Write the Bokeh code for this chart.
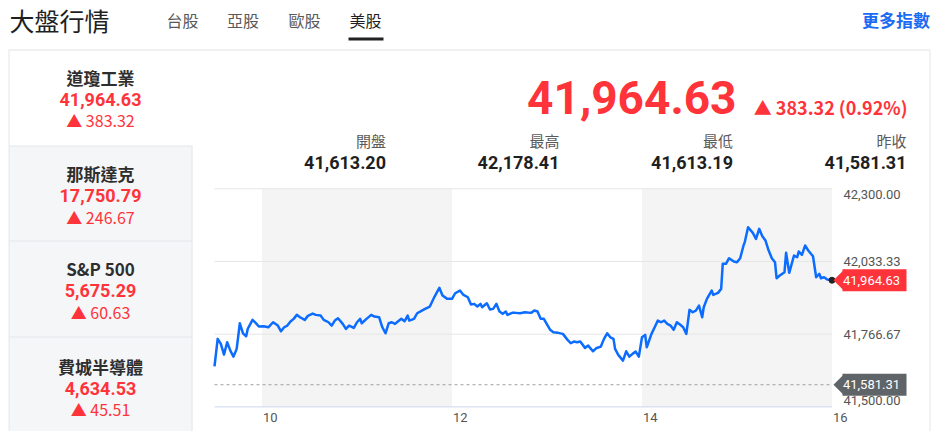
import math
import numpy as np
from bokeh.plotting import figure
from bokeh.models import Range1d
from bokeh.core.properties import value
from bokeh.embed import file_html
from bokeh.resources import INLINE

# ---------------- data ----------------
page_title = "大盤行情"
tabs = ["台股", "亞股", "歐股", "美股"]
active_tab = 3
more_link = "更多指數"

index_names = ["道瓊工業", "那斯達克", "S&P 500", "費城半導體"]
index_values = [41964.63, 17750.79, 5675.29, 4634.53]
index_changes = [383.32, 246.67, 60.63, 45.51]

last_price = 41964.63
last_change = 383.32
last_pct = 0.92

stat_labels = ["開盤", "最高", "最低", "昨收"]
stat_values = [41613.20, 42178.41, 41613.19, 41581.31]
prev_close = 41581.31

y_ticks = [41500.00, 41766.67, 42033.33, 42300.00]
x_ticks = [10, 12, 14, 16]
x_tick_labels = ["10", "12", "14", "16"]
band_starts = [10, 14]
band_ends = [12, 16]
session_start = 9.5   # 09:30
session_end = 16.0    # 16:00

# minutes after 09:30 and index level
minutes = [0, 2, 4, 6, 8, 10, 12, 14, 16, 18,
           20, 21, 24, 26, 28, 31, 34, 37, 40, 42,
           44, 46, 48, 50, 52, 54, 57, 59, 62, 64,
           67, 69, 72, 74, 76, 78, 81, 83, 85, 88,
           90, 92, 93, 96, 99, 101, 104, 106, 108, 110,
           112, 114, 116, 118, 120, 122, 123, 126, 128, 131,
           133, 136, 139, 142, 144, 147, 150, 152, 155, 157,
           160, 162, 164, 166, 168, 169, 172, 174, 176, 178,
           180, 182, 184, 185, 188, 190, 193, 196, 200, 202,
           204, 206, 208, 212, 214, 217, 220, 223, 225, 227,
           229, 231, 234, 236, 239, 241, 244, 246, 248, 250,
           252, 253, 255, 258, 260, 262, 264, 266, 268, 270,
           272, 273, 276, 278, 280, 282, 284, 286, 288, 290,
           292, 294, 296, 298, 300, 302, 304, 306, 308, 309,
           311, 314, 315, 318, 320, 321, 323, 325, 328, 330,
           332, 334, 335, 337, 340, 342, 344, 346, 348, 350,
           352, 354, 355, 357, 360, 361, 363, 366, 368, 369,
           371, 373, 375, 378, 380, 382, 383, 385, 387, 390]
prices = [41648.9, 41749.5, 41731.2, 41691.9, 41737.0, 41706.6, 41684.5, 41712.8, 41806.8, 41770.0,
          41759.0, 41786.2, 41819.2, 41808.2, 41794.7, 41795.8, 41792.1, 41810.5, 41798.3, 41777.4,
          41792.1, 41798.3, 41813.0, 41822.9, 41837.6, 41828.8, 41819.2, 41833.9, 41842.4, 41837.6,
          41835.0, 41819.2, 41810.5, 41798.3, 41816.7, 41825.1, 41804.5, 41786.2, 41798.3, 41789.9,
          41810.5, 41822.9, 41806.8, 41822.9, 41837.6, 41831.4, 41828.8, 41792.1, 41770.0, 41806.8,
          41810.5, 41804.5, 41814.1, 41822.9, 41814.1, 41835.0, 41816.7, 41822.9, 41843.5, 41853.4,
          41859.6, 41868.1, 41904.8, 41936.7, 41908.4, 41896.3, 41896.3, 41916.9, 41926.8, 41912.1,
          41902.2, 41875.4, 41878.0, 41868.1, 41878.0, 41865.5, 41880.2, 41857.1, 41859.6, 41878.0,
          41849.7, 41841.3, 41849.7, 41837.6, 41844.9, 41844.9, 41843.5, 41847.2, 41844.9, 41853.4,
          41849.7, 41822.9, 41822.9, 41782.6, 41773.8, 41771.6, 41767.9, 41745.9, 41733.4, 41739.6,
          41737.0, 41739.6, 41716.5, 41724.9, 41704.0, 41715.0, 41721.2, 41749.5, 41770.0, 41755.4,
          41749.5, 41712.8, 41690.7, 41669.9, 41704.0, 41684.5, 41694.5, 41702.9, 41684.5, 41755.4,
          41764.2, 41718.7, 41767.9, 41792.1, 41816.7, 41810.5, 41816.7, 41804.5, 41798.3, 41782.6,
          41810.5, 41802.0, 41792.1, 41767.9, 41855.9, 41847.2, 41853.4, 41871.7, 41828.8, 41865.5,
          41896.3, 41926.8, 41911.0, 41918.3, 41933.0, 42024.7, 42024.7, 42045.3, 42033.2, 42030.6,
          42045.3, 42089.4, 42106.6, 42159.1, 42138.5, 42116.5, 42153.2, 42126.0, 42110.3, 42073.6,
          42045.3, 42030.6, 41971.9, 41981.8, 41994.0, 42065.2, 41991.8, 42055.2, 42049.0, 42069.9,
          42057.8, 42091.9, 42073.6, 42052.7, 41975.6, 41988.1, 41971.9, 41975.6, 41967.2, 41964.63]

hours = [session_start + m / 60.0 for m in minutes]

# ---------------- styles / layout ----------------
RED = "#ff333a"
DARK = "#1f1f1f"
GRAY_TXT = "#5a5a5a"
LINE_BLUE = "#0b6cff"
BORDER = "#e3e6ea"
SIDE_BG = "#f5f6f8"
CJK = value("Noto Sans CJK TC")
NUM = value("Roboto")

W, H = 938, 431
OX = OY = 0


def fx(sx):
    return sx - OX


def fy(sy):
    return sy - OY


p = figure(width=W, height=H, x_range=Range1d(0, W), y_range=Range1d(H, 0),
           output_backend="svg", toolbar_location=None, min_border=0,
           x_axis_location=None, y_axis_location=None, outline_line_color=None)
p.grid.visible = False
p.background_fill_color = "white"
p.border_fill_color = "white"

# chart frame in pixels, data ranges derived from it
PL, PR = fx(214), fx(831.5)
PT, PB = fy(188.3), fy(406.4)
V0, V1 = y_ticks[0], y_ticks[-1]
kx = (PR - PL) / (session_end - session_start)
ky = (PB - PT) / (V1 - V0)
p.extra_x_ranges = {"t": Range1d(session_start - PL / kx, session_end + (W - PR) / kx)}
p.extra_y_ranges = {"v": Range1d(V0 - (H - PB) / ky, V1 + PT / ky)}
C = dict(x_range_name="t", y_range_name="v")

# ---------------- header ----------------
p.text(x=[fx(9)], y=[fy(19)], text=[page_title], text_font=CJK, text_font_size="25px",
       text_color=DARK, text_align="left", text_baseline="middle")
tab_x = [fx(182), fx(242.5), fx(304), fx(365)]
p.text(x=tab_x, y=[fy(19)] * 4, text=tabs, text_font=CJK, text_font_size="16px",
       text_color=[DARK if i == active_tab else GRAY_TXT for i in range(len(tabs))],
       text_align="center", text_baseline="middle")
p.quad(left=[fx(348)], right=[fx(383)], top=[fy(37)], bottom=[fy(40)],
       fill_color="#222222", line_color=None)
p.text(x=[fx(929.5)], y=[fy(19)], text=[more_link], text_font=CJK, text_font_size="17px",
       text_font_style="bold", text_color="#1b6cf2", text_align="right", text_baseline="middle")
p.segment(x0=[fx(8)], x1=[fx(930)], y0=[fy(49.5)], y1=[fy(49.5)], line_color="#e2e2e2", line_width=1)

# ---------------- sidebar ----------------
item_tops = [fy(50), fy(145.5), fy(240.5), fy(336.5)]
item_bottoms = item_tops[1:] + [H]
p.quad(left=[fx(8.5)] * 3, right=[fx(192)] * 3, top=item_tops[1:], bottom=item_bottoms[1:],
       fill_color=SIDE_BG, line_color=None)
p.segment(x0=[fx(8.5)] * 3, x1=[fx(192)] * 3, y0=item_tops[1:], y1=item_tops[1:],
          line_color=BORDER, line_width=1)
p.segment(x0=[fx(191.5)], x1=[fx(191.5)], y0=[item_tops[1]], y1=[H], line_color=BORDER)
p.segment(x0=[fx(8.5)], x1=[fx(8.5)], y0=[fy(50)], y1=[H], line_color=BORDER)

name_y = [fy(76.7), fy(173.3), fy(268.3), fy(365.7)]
side_cx = fx(100)
p.text(x=[side_cx] * 4, y=name_y, text=index_names, text_font=CJK, text_font_size="17px",
       text_font_style="bold", text_color="#2e2e2e", text_align="center", text_baseline="middle")
p.text(x=[side_cx] * 4, y=[y + 22 for y in name_y], text=[f"{v:,.2f}" for v in index_values],
       text_font=NUM, text_font_size="18px", text_font_style="bold", text_color=RED,
       text_align="center", text_baseline="middle")
p.text(x=[side_cx] * 4, y=[y + 43 for y in name_y], text=[f"▲ {c:,.2f}" for c in index_changes],
       text_font=CJK, text_font_size="16px", text_color=RED,
       text_align="center", text_baseline="middle")

# ---------------- main panel ----------------
p.segment(x0=[fx(929.5)], x1=[fx(929.5)], y0=[fy(50)], y1=[H], line_color=BORDER)
p.text(x=[fx(736)], y=[fy(97)], text=[f"{last_price:,.2f}"], text_font=NUM,
       text_font_size="46px", text_font_style="bold", text_color=RED,
       text_align="right", text_baseline="middle")
p.text(x=[fx(907)], y=[fy(106.7)], text=[f"▲ {last_change:,.2f} ({last_pct:.2f}%)"],
       text_font=CJK, text_font_size="18px", text_font_style="bold", text_color=RED,
       text_align="right", text_baseline="middle")
stat_x = [fx(385.5), fx(559), fx(732.5), fx(906)]
p.text(x=stat_x, y=[fy(140)] * 4, text=stat_labels, text_font=CJK, text_font_size="15px",
       text_color=GRAY_TXT, text_align="right", text_baseline="middle")
p.text(x=stat_x, y=[fy(162.3)] * 4, text=[f"{v:,.2f}" for v in stat_values], text_font=NUM,
       text_font_size="18px", text_font_style="bold", text_color=DARK,
       text_align="right", text_baseline="middle")

# ---------------- chart ----------------
p.quad(left=band_starts, right=band_ends, bottom=V0, top=V1,
       fill_color="#f4f4f4", line_color=None, **C)
p.segment(x0=[session_start] * 3, x1=[session_end] * 3, y0=y_ticks[1:], y1=y_ticks[1:],
          line_color="#e6e6e6", line_width=1, **C)
p.segment(x0=[session_start], x1=[session_end], y0=[V0], y1=[V0],
          line_color="#ccd6eb", line_width=1, **C)
p.segment(x0=[session_start], x1=[session_end], y0=[prev_close], y1=[prev_close],
          line_color="#a0a0a0", line_width=1, line_dash="3 3", **C)
p.line(hours, prices, line_color=LINE_BLUE, line_width=2.5, line_join="round", **C)
p.scatter([hours[-1]], [prices[-1]], size=6, fill_color="#222222", line_color="#222222", **C)

# axis labels
p.text(x=[fx(843)] * 4, y=y_ticks, text=[f"{v:,.2f}" for v in y_ticks],
       y_offset=[-6, 0, 0, 6], y_range_name="v", text_font=NUM, text_font_size="13px",
       text_color="#555555", text_align="left", text_baseline="middle")
p.text(x=x_ticks, y=[fy(416.7)] * 4, text=x_tick_labels, x_range_name="t", x_offset=1,
       text_font=NUM, text_font_size="13px", text_color="#555555",
       text_align="left", text_baseline="middle")

# price callouts
for val, col in [(last_price, RED), (prev_close, "#5f6469")]:
    p.rect(x=[fx(844)], y=[val], width=15.6, height=15.6, width_units="screen",
           height_units="screen", angle=math.pi / 4, fill_color=col, line_color=None,
           y_range_name="v")
    p.rect(x=[fx(874)], y=[val], width=64, height=22, width_units="screen",
           height_units="screen", fill_color=col, line_color=None, y_range_name="v")
    p.text(x=[fx(871)], y=[val], text=[f"{val:,.2f}"], y_range_name="v", text_font=NUM,
           text_font_size="13px", text_color="white", text_align="center",
           text_baseline="middle")

open("out.html", "w").write(file_html(p, INLINE))
